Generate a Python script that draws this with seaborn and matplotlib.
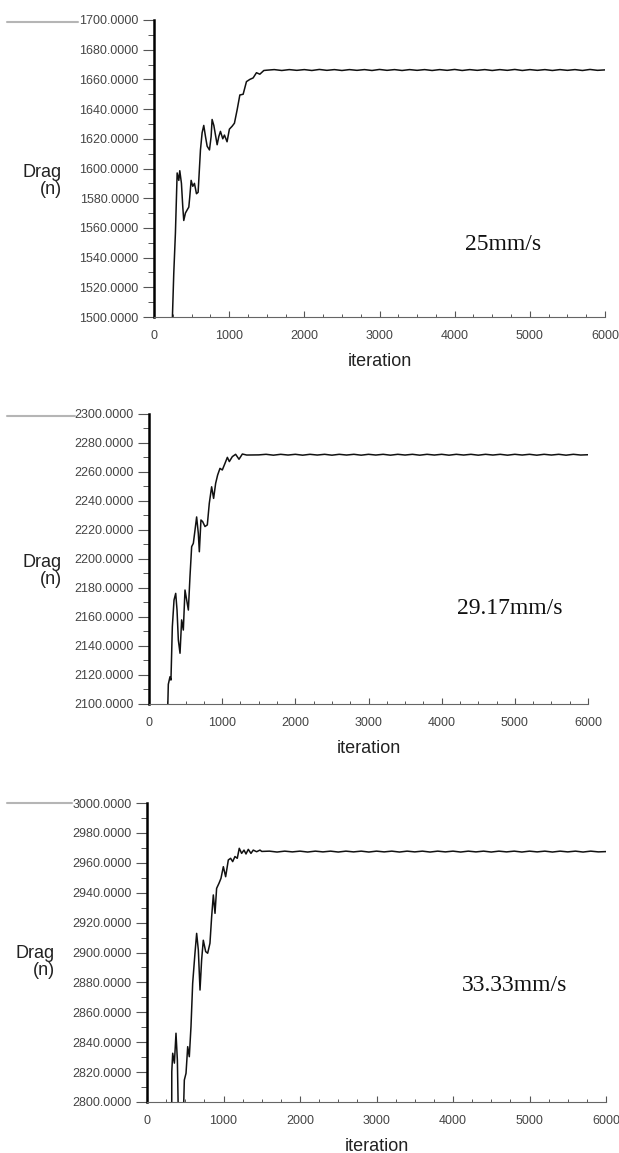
import numpy as np
import pandas as pd
import matplotlib
matplotlib.use("Agg")
import matplotlib.pyplot as plt
from matplotlib.lines import Line2D
from matplotlib.ticker import MultipleLocator, FormatStrFormatter
import seaborn as sns

# ---- data ----
# transient part (iteration, drag)
it_25 = [242, 263, 285, 308, 330, 343, 365, 383, 396, 418, 440, 463, 476, 494, 516, 538,
         565, 587, 618, 640, 662, 685, 707, 738, 760, 773, 796, 818, 840, 862, 884, 915,
         937, 972, 1003, 1040, 1070, 1106, 1142, 1186, 1230, 1275, 1319, 1363, 1408, 1461]
drag_25 = [1495, 1529.4, 1556.6, 1597, 1592, 1598.5, 1590, 1574, 1565, 1570, 1572, 1574,
           1581, 1592, 1588, 1590, 1583, 1584, 1612.5, 1624, 1629, 1621.5, 1615, 1612.5,
           1621.5, 1633, 1629, 1622.5, 1616, 1621.5, 1625, 1620, 1622.5, 1618, 1626.5,
           1628.5, 1630.5, 1639.5, 1649.5, 1650, 1658.5, 1660, 1661, 1664.5, 1663.5, 1666]

it_2917 = [255, 264, 287, 300, 319, 342, 365, 383, 401, 424, 446, 469, 492, 515, 538, 560,
           583, 606, 629, 651, 674, 688, 710, 733, 765, 797, 824, 856, 883, 911, 938, 970,
           1002, 1039, 1071, 1098, 1139, 1184, 1230, 1276, 1335]
drag_2917 = [2095, 2113.6, 2118.8, 2116.5, 2153.3, 2171.7, 2176.3, 2164.8, 2144.1, 2135,
             2158, 2151, 2178.6, 2171.7, 2164.8, 2187.8, 2208.5, 2210.8, 2220, 2229, 2217.7,
             2205, 2226.9, 2225.8, 2222.4, 2223.5, 2238.4, 2249.8, 2241.8, 2252.2, 2257.9,
             2262.5, 2261.4, 2266, 2270.1, 2267.2, 2270.6, 2272.2, 2268.8, 2272.4, 2271.7]

it_3333 = [323, 324, 336, 358, 379, 397, 410, 475, 488, 510, 532, 553, 575, 597, 627, 649,
           671, 693, 714, 736, 767, 793, 823, 845, 867, 889, 910, 941, 967, 998, 1028, 1063,
           1093, 1120, 1150, 1180, 1206, 1237, 1268, 1294, 1324, 1359, 1389, 1433, 1477]
drag_3333 = [2790, 2820.3, 2832.6, 2826, 2846, 2828, 2790, 2790, 2814.7, 2819.2, 2837,
             2830.3, 2850.4, 2879.4, 2899.5, 2912.8, 2901.7, 2874.9, 2895, 2908.2, 2900.6,
             2899.5, 2906.2, 2923.9, 2938.5, 2926.2, 2942.9, 2946.3, 2949.6, 2957.4, 2950.7,
             2961.9, 2963, 2960.8, 2964.2, 2963, 2969.7, 2966.3, 2968.5, 2965.9, 2969,
             2966.3, 2968.5, 2967.4, 2968.5]

# steady part, sampled every 100 iterations from 1500 to 6000
plateau_it = list(range(1500, 6001, 100))
plateau_25 = [1666.2, 1666.6, 1666.0, 1666.6, 1666.1, 1666.6, 1666.0, 1666.7, 1666.1, 1666.6,
              1666.0, 1666.6, 1666.1, 1666.6, 1666.0, 1666.7, 1666.1, 1666.6, 1666.0, 1666.6,
              1666.1, 1666.6, 1666.0, 1666.6, 1666.1, 1666.7, 1666.0, 1666.6, 1666.1, 1666.6,
              1666.0, 1666.6, 1666.1, 1666.7, 1666.0, 1666.6, 1666.1, 1666.6, 1666.0, 1666.6,
              1666.1, 1666.6, 1666.0, 1666.7, 1666.1, 1666.4]
plateau_2917 = [2271.8, 2272.2, 2271.6, 2272.2, 2271.7, 2272.2, 2271.6, 2272.2, 2271.7, 2272.2,
                2271.6, 2272.2, 2271.7, 2272.2, 2271.6, 2272.2, 2271.7, 2272.2, 2271.6, 2272.2,
                2271.7, 2272.2, 2271.6, 2272.2, 2271.7, 2272.2, 2271.6, 2272.2, 2271.7, 2272.2,
                2271.6, 2272.2, 2271.7, 2272.2, 2271.6, 2272.2, 2271.7, 2272.2, 2271.6, 2272.2,
                2271.7, 2272.2, 2271.6, 2272.2, 2271.7, 2271.9]
plateau_3333 = [2967.6, 2967.8, 2967.2, 2967.8, 2967.3, 2967.8, 2967.2, 2967.8, 2967.3, 2967.8,
                2967.2, 2967.8, 2967.3, 2967.8, 2967.2, 2967.8, 2967.3, 2967.8, 2967.2, 2967.8,
                2967.3, 2967.8, 2967.2, 2967.8, 2967.3, 2967.8, 2967.2, 2967.8, 2967.3, 2967.8,
                2967.2, 2967.8, 2967.3, 2967.8, 2967.2, 2967.8, 2967.3, 2967.8, 2967.2, 2967.8,
                2967.3, 2967.8, 2967.2, 2967.8, 2967.3, 2967.5]

speeds = ["25mm/s", "29.17mm/s", "33.33mm/s"]
y_ranges = [(1500, 1700), (2100, 2300), (2800, 3000)]

series = [(it_25, drag_25, plateau_25),
          (it_2917, drag_2917, plateau_2917),
          (it_3333, drag_3333, plateau_3333)]

# ---- layout (figure pixels) ----
W, H = 619, 1153
boxes = [(154, 605, 20, 317), (149, 588, 414, 704), (147, 606, 803, 1102)]
label_pos = [(62, 181), (62, 571), (55, 962)]
note_pos = [(4645, 1548.5), (4934, 2166), (4810, 2878)]
gray_lines = [(7, 78, 22), (7, 75, 416), (7, 72, 803)]

sns.set_style("ticks")
plt.rcParams["font.family"] = ["Liberation Sans", "DejaVu Sans"]

fig = plt.figure(figsize=(W / 100, H / 100), dpi=100)

for i in range(3):
    x0, x1, y0, y1 = boxes[i]
    ax = fig.add_axes([x0 / W, 1 - y1 / H, (x1 - x0) / W, (y1 - y0) / H])
    its, vals, plat = series[i]
    df = pd.DataFrame({"iteration": its + plateau_it, "drag": vals + plat})
    sns.lineplot(data=df, x="iteration", y="drag", ax=ax, color="#111111",
                 linewidth=1.1, sort=False, estimator=None)

    ax.set_xlim(0, 6000)
    ax.set_ylim(*y_ranges[i])
    ax.yaxis.set_major_locator(MultipleLocator(20))
    ax.yaxis.set_minor_locator(MultipleLocator(10))
    ax.yaxis.set_major_formatter(FormatStrFormatter("%.4f"))
    ax.xaxis.set_major_locator(MultipleLocator(1000))
    ax.xaxis.set_minor_locator(MultipleLocator(250))

    ax.tick_params(axis="y", which="major", left=True, direction="out", length=8,
                   width=0.8, color="#555555", labelsize=9, labelcolor="#444444", pad=3)
    ax.tick_params(axis="y", which="minor", left=True, direction="out", length=4,
                   width=0.7, color="#555555")
    ax.tick_params(axis="x", which="major", bottom=True, direction="in", length=4,
                   width=0.8, color="#555555", labelsize=9, labelcolor="#444444", pad=9)
    ax.tick_params(axis="x", which="minor", bottom=True, direction="in", length=2.5,
                   width=0.7, color="#555555")

    for s in ["top", "right"]:
        ax.spines[s].set_visible(False)
    ax.spines["left"].set_linewidth(1.8)
    ax.spines["left"].set_color("black")
    ax.spines["bottom"].set_linewidth(0.8)
    ax.spines["bottom"].set_color("#666666")

    ax.set_xlabel("iteration", fontsize=13, labelpad=8, color="#222222")
    ax.set_ylabel("")

    nx, ny = note_pos[i]
    ax.text(nx, ny, speeds[i], ha="center", va="center", fontsize=17,
            family=["Liberation Serif", "DejaVu Serif"], color="#111111")

    lx, ly = label_pos[i]
    fig.text(lx / W, 1 - ly / H, "Drag\n(n)", ha="right", va="center",
             multialignment="right", fontsize=13, linespacing=0.95, color="#222222")

    gx0, gx1, gy = gray_lines[i]
    fig.add_artist(Line2D([gx0 / W, gx1 / W], [1 - gy / H, 1 - gy / H],
                          color="#b5b5b5", linewidth=1.5))

fig.savefig("out.png", dpi=100, facecolor="white")
